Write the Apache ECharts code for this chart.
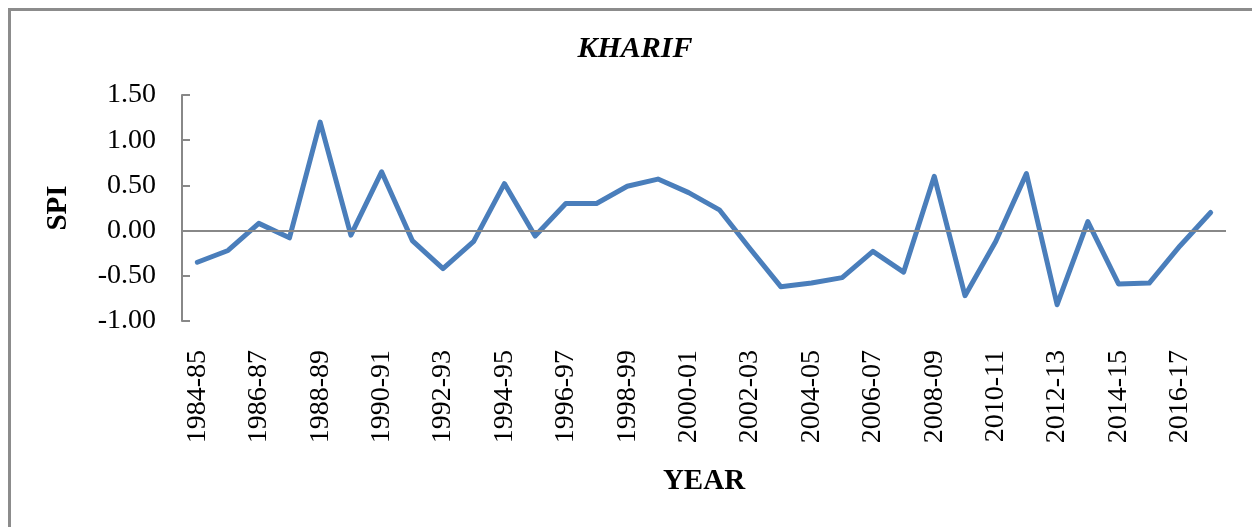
<!DOCTYPE html>
<html>
<head>
<meta charset="utf-8">
<script src="https://cdn.jsdelivr.net/npm/echarts@6/dist/echarts.min.js"></script>
<style>
html,body{margin:0;padding:0;background:#fff;}
#chart{width:1252px;height:527px;}
</style>
</head>
<body>
<div id="chart"></div>
<script>
const categories = ['1984-85','1985-86','1986-87','1987-88','1988-89','1989-90','1990-91','1991-92','1992-93','1993-94',
  '1994-95','1995-96','1996-97','1997-98','1998-99','1999-00','2000-01','2001-02','2002-03','2003-04',
  '2004-05','2005-06','2006-07','2007-08','2008-09','2009-10','2010-11','2011-12','2012-13','2013-14',
  '2014-15','2015-16','2016-17','2017-18'];
const spi = [-0.35,-0.22,0.08,-0.08,1.20,-0.05,0.65,-0.11,-0.42,-0.12,
  0.52,-0.06,0.30,0.30,0.49,0.57,0.42,0.23,-0.20,-0.62,
  -0.58,-0.52,-0.23,-0.46,0.60,-0.72,-0.12,0.63,-0.82,0.10,
  -0.59,-0.58,-0.17,0.20];
const yTicks = {min:-1, max:1.5, interval:0.5};
const titleText = 'KHARIF';
const yName = 'SPI';
const xName = 'YEAR';

const font = "'Liberation Serif','Times New Roman',serif";
const chart = echarts.init(document.getElementById('chart'), null, {renderer:'canvas'});
chart.setOption({
  animation:false,
  backgroundColor:'#fff',
  title:{text:titleText, left:630, top:29, textAlign:'center',
    textStyle:{fontFamily:font, fontSize:30, fontWeight:'bold', fontStyle:'italic', color:'#000'}},
  grid:{left:182, right:26, top:95, bottom:206, containLabel:false},
  xAxis:{type:'category', data:categories, boundaryGap:true,
    axisLine:{show:false, onZero:false}, axisTick:{show:false},
    axisLabel:{interval:1, rotate:90, margin:29, color:'#000', fontFamily:font, fontSize:28}},
  yAxis:{type:'value', min:yTicks.min, max:yTicks.max, interval:yTicks.interval,
    axisLine:{show:true, lineStyle:{color:'#888', width:2}},
    axisTick:{show:true, inside:true, length:8, lineStyle:{color:'#888', width:2}},
    splitLine:{show:false},
    axisLabel:{margin:26, color:'#000', fontFamily:font, fontSize:28, formatter:v=>v.toFixed(2)}},
  series:[{type:'line', data:spi, showSymbol:false, symbol:'none',
    lineStyle:{color:'#4A7EBB', width:5, join:'round', cap:'round'},
    markLine:{silent:true, symbol:'none', label:{show:false},
      lineStyle:{color:'#888', width:2, type:'solid'}, data:[{yAxis:0}]},
    z:3}],
  graphic:[
    {type:'rect', left:7, top:7, shape:{width:1300, height:600}, style:{fill:'none', stroke:'#8c8c8c', lineWidth:3}, silent:true},
    {type:'text', x:59, y:208, rotation:Math.PI/2, style:{text:yName, font:"bold 29px 'Liberation Serif'", fill:'#000', textAlign:'center', textVerticalAlign:'middle'}},
    {type:'text', x:704, y:482, style:{text:xName, font:"bold 29px 'Liberation Serif'", fill:'#000', textAlign:'center', textVerticalAlign:'middle'}}
  ]
});
</script>
</body>
</html>
